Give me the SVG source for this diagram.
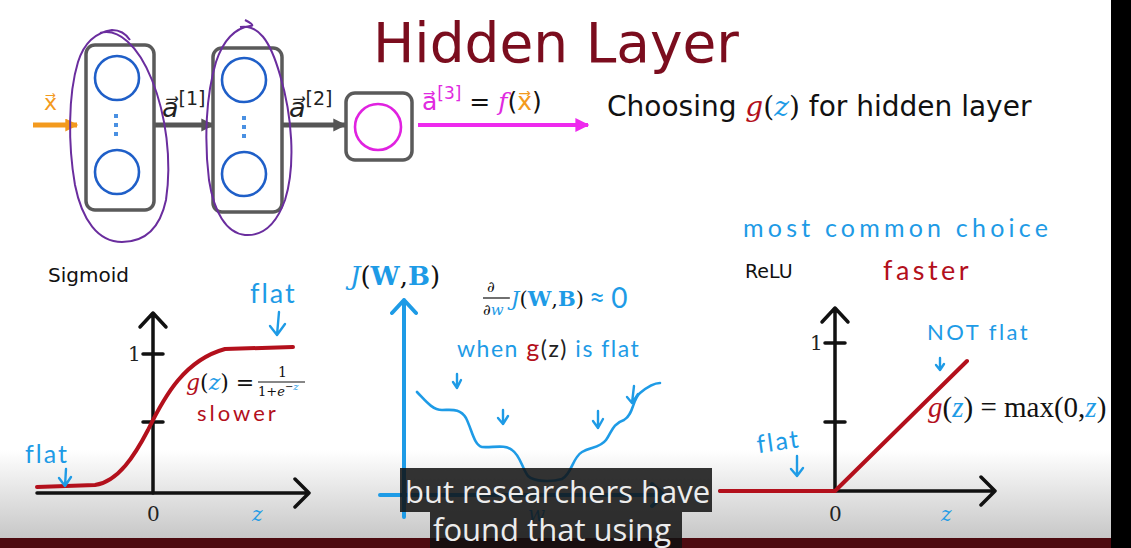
<svg xmlns="http://www.w3.org/2000/svg" width="1131" height="548" viewBox="0 0 1131 548">
<defs>
<linearGradient id="bg" x1="0" y1="0" x2="0" y2="1">
<stop offset="0" stop-color="#ffffff"/>
<stop offset="1" stop-color="#c6c6c6"/>
</linearGradient>
<marker id="hGray" viewBox="0 0 10 10" refX="9" refY="5" markerWidth="13" markerHeight="15" markerUnits="userSpaceOnUse" orient="auto"><path d="M0,0 L10,5 L0,10 z" fill="#555"/></marker>
<marker id="hOrange" viewBox="0 0 10 10" refX="9" refY="5" markerWidth="14" markerHeight="13" markerUnits="userSpaceOnUse" orient="auto"><path d="M0,0 L10,5 L0,10 z" fill="#f39a1e"/></marker>
<marker id="hMag" viewBox="0 0 10 10" refX="9" refY="5" markerWidth="14" markerHeight="14" markerUnits="userSpaceOnUse" orient="auto"><path d="M0,0 L10,5 L0,10 z" fill="#ee2aee"/></marker>
</defs>
<style>
.box{fill:#fff;stroke:#5a5a5a;stroke-width:3.5}
.neu{fill:none;stroke:#1f5fc8;stroke-width:2.6}
.dot{fill:#4a90e2}
.loop{fill:none;stroke:#6a2d9e;stroke-width:2}
.sans{font-family:"DejaVu Sans",sans-serif}
.ser{font-family:"DejaVu Serif","Liberation Serif",serif}
.lser{font-family:"Liberation Serif",serif}
.it{font-style:italic}
.hand{font-family:Lato,"Noto Sans",sans-serif;fill:#1e9be6}
.axK{fill:none;stroke:#111;stroke-width:3.5;stroke-linecap:round;stroke-linejoin:round}
.axB{fill:none;stroke:#1e9be6;stroke-width:4;stroke-linecap:round;stroke-linejoin:round}
.red{fill:none;stroke:#b3101c;stroke-width:4;stroke-linecap:round;stroke-linejoin:round}
.ha{fill:none;stroke:#1e9be6;stroke-width:2.4;stroke-linecap:round;stroke-linejoin:round}
.cb{fill:#1e9be6}
.cr{fill:#b3101c}
.ck{fill:#111}
.sub{fill:#101010;fill-opacity:0.85}
.subt{font-family:"Open Sans",sans-serif;font-size:31px;fill:#ececec}
</style>

<rect x="0" y="0" width="1131" height="548" fill="#fff"/>
<rect x="0" y="450" width="1131" height="90" fill="url(#bg)"/>
<rect x="0" y="538" width="1131" height="10" fill="#4d0a10"/>
<rect x="1111" y="0" width="20" height="548" fill="#000"/>

<text x="373" y="62" class="sans" font-size="55" fill="#7b0d1e">Hidden Layer</text>

<g id="connectors">
<line x1="33" y1="125" x2="77" y2="125" stroke="#f39a1e" stroke-width="5" marker-end="url(#hOrange)"/>
<line x1="155" y1="125" x2="213" y2="125" stroke="#555" stroke-width="5" marker-end="url(#hGray)"/>
<line x1="283" y1="125" x2="345" y2="125" stroke="#555" stroke-width="5" marker-end="url(#hGray)"/>
<line x1="418" y1="125" x2="588" y2="125" stroke="#ee2aee" stroke-width="4" marker-end="url(#hMag)"/>
</g>

<g id="input-label">
<text x="44" y="110" class="sans" font-size="22" fill="#f39a1e">x⃗</text>
</g>

<g id="layer1">
<rect x="86" y="45" width="68" height="165" rx="9" class="box"/>
<circle cx="117" cy="78" r="22" class="neu"/>
<circle cx="117" cy="172" r="22" class="neu"/>
<rect x="114" y="114" width="4" height="4" class="dot"/>
<rect x="114" y="123" width="4" height="4" class="dot"/>
<rect x="114" y="132" width="4" height="4" class="dot"/>
</g>

<g id="label-a1">
<text x="162" y="117" fill="#222"><tspan class="sans it" font-size="27">a⃗</tspan><tspan class="sans" font-size="19" dy="-12">[1]</tspan></text>
</g>

<g id="layer2">
<rect x="213" y="48" width="69" height="164" rx="9" class="box"/>
<circle cx="244" cy="80" r="22" class="neu"/>
<circle cx="244" cy="174" r="22" class="neu"/>
<rect x="242" y="116" width="4" height="4" class="dot"/>
<rect x="242" y="125" width="4" height="4" class="dot"/>
<rect x="242" y="134" width="4" height="4" class="dot"/>
</g>

<g id="label-a2">
<text x="289" y="117" fill="#222"><tspan class="sans it" font-size="27">a⃗</tspan><tspan class="sans" font-size="19" dy="-12">[2]</tspan></text>
</g>

<g id="output">
<rect x="346" y="93" width="66" height="67" rx="9" class="box"/>
<circle cx="378" cy="127" r="23" fill="none" stroke="#e022e0" stroke-width="2.6"/>
</g>

<g id="label-a3">
<text x="422" y="110" class="sans" font-size="25"><tspan fill="#e02ae0">a⃗</tspan><tspan fill="#e02ae0" font-size="17" dy="-11">[3]</tspan><tspan class="ck" dy="11"> = </tspan><tspan class="ser it" fill="#e02ae0">f</tspan><tspan class="ck">(</tspan><tspan fill="#f39a1e">x⃗</tspan><tspan class="ck">)</tspan></text>
</g>

<g id="heading">
<text x="607" y="116" class="sans" font-size="28" fill="#111">Choosing <tspan class="ser it cr">g</tspan><tspan class="ser">(</tspan><tspan class="ser it cb">z</tspan><tspan class="ser">)</tspan> for hidden layer</text>
</g>

<g id="loops">
<path class="loop" d="M100,33 C118,28 138,45 152,80 C166,115 172,160 166,200 C160,228 145,242 122,242 C98,242 82,220 75,185 C68,145 68,95 78,62 C85,40 98,32 112,30 C120,30 126,34 130,40"/>
<path class="loop" d="M240,27 C258,24 270,40 280,75 C292,115 296,165 285,200 C275,228 260,236 245,235 C226,233 214,212 209,180 C204,140 206,95 216,62 C224,38 236,28 250,26 C256,26 249,22 245,20"/>
</g>

<g id="sigmoid">
<text x="48" y="282" class="sans" font-size="20" fill="#111">Sigmoid</text>
<path class="axK" d="M153,313 L153,493 M140,327 L153,313 L166,327"/>
<path class="axK" d="M37,493 L309,493 M295,479 L309,493 L295,507"/>
<path class="axK" d="M143,354 L163,354 M143,422 L163,422"/>
<text x="128" y="361" class="ser" font-size="20" fill="#222">1</text>
<text x="147" y="521" class="ser" font-size="20" fill="#222">0</text>
<text x="252" y="521" class="ser it" font-size="20" fill="#1e9be6">z</text>
<path class="red" d="M37,487 L95,485 C118,482 135,455 148,430 C165,395 185,360 225,349 L293,347"/>
<text x="186" y="390" class="ser" font-size="22" fill="#111"><tspan class="it cr">g</tspan>(<tspan class="it cb">z</tspan>) =</text>
<text x="278" y="377" class="ser" font-size="14" fill="#111">1</text>
<line x1="258" y1="382" x2="305" y2="382" stroke="#111" stroke-width="1.2"/>
<text x="258" y="396" class="ser" font-size="13" fill="#111">1+<tspan class="it">e</tspan><tspan font-size="10" dy="-6">−</tspan><tspan font-size="10" class="it cb">z</tspan></text>
<text x="197" y="421" class="hand" font-size="22" style="fill:#b3101c" letter-spacing="3">slower</text>
<text x="250" y="303" class="hand" font-size="27" letter-spacing="2">flat</text>
<path class="ha" d="M279,312 L277,335 M270,326 L277,335 L285,324"/>
<text x="25" y="463" class="hand" font-size="25" letter-spacing="2">flat</text>
<path class="ha" d="M66,469 L65,486 M59,478 L65,486 L71,477"/>
</g>

<g id="cost">
<text x="350" y="285" class="ser" font-size="26" fill="#111"><tspan class="it cb">J</tspan>(<tspan font-weight="bold" class="cb">W</tspan>,<tspan font-weight="bold" class="cb">B</tspan>)</text>
<path class="axB" d="M404,300 L404,517 M392,313 L404,300 L416,313"/>
<path class="axB" d="M380,495 L664,495 M652,484 L664,495 L652,506"/>
<text x="528" y="521" class="ser it" font-size="20" fill="#1e9be6">w</text>
<text x="487" y="292" class="ser it" font-size="15" fill="#111">∂</text>
<line x1="483" y1="298" x2="510" y2="298" stroke="#111" stroke-width="1.2"/>
<text x="483" y="315" class="ser it" font-size="15" fill="#111">∂<tspan class="cb">w</tspan></text>
<text x="511" y="306" class="ser" font-size="21" fill="#111"><tspan class="it cb">J</tspan>(<tspan font-weight="bold" class="cb">W</tspan>,<tspan font-weight="bold" class="cb">B</tspan>)</text>
<text x="589" y="308" class="hand" font-size="28">≈<tspan dx="6">0</tspan></text>
<text x="457" y="357" class="hand" font-size="23" letter-spacing="1.5">when <tspan style="fill:#b3101c" font-size="25">g</tspan><tspan style="fill:#222">(z)</tspan> is flat</text>
<path d="M417,392 C425,400 432,410 442,410 C452,410 460,408 466,418 C472,430 474,445 482,447 C492,448 505,444 512,450 C520,455 522,468 528,476 C534,482 552,482 562,479 C572,474 572,458 582,452 C590,447 600,448 606,440 C612,432 612,424 624,420 C634,414 632,400 640,393 C646,388 654,383 660,383" fill="none" stroke="#1e9be6" stroke-width="2.6" stroke-linecap="round"/>
<path class="ha" d="M457,374 L457,388 M453,382 L457,388 L461,380"/>
<path class="ha" d="M503,410 L503,424 M498,418 L503,424 L508,416"/>
<path class="ha" d="M598,411 L598,428 M593,421 L598,428 L603,419"/>
<path class="ha" d="M634,386 L632,403 M627,397 L632,403 L638,394"/>
</g>

<g id="relu">
<text x="743" y="237" class="hand" font-size="25" letter-spacing="4.2">most common choice</text>
<text x="745" y="278" class="sans" font-size="19" fill="#111">ReLU</text>
<text x="883" y="280" class="hand" font-size="27" style="fill:#b3101c" letter-spacing="3.5">faster</text>
<path class="axK" d="M835,308 L835,491 M822,322 L835,308 L848,322"/>
<path class="axK" d="M720,491 L995,491 M981,477 L995,491 L981,505"/>
<path class="axK" d="M825,343 L845,343 M825,422 L845,422"/>
<text x="810" y="350" class="ser" font-size="20" fill="#222">1</text>
<text x="829" y="521" class="ser" font-size="20" fill="#222">0</text>
<text x="941" y="521" class="ser it" font-size="20" fill="#1e9be6">z</text>
<path class="red" d="M720,491 L835,491 L967,361"/>
<text x="927" y="340" class="hand" font-size="22" letter-spacing="2.5">NOT flat</text>
<path class="ha" d="M940,358 L940,370 M936,365 L940,370 L944,364"/>
<text x="928" y="417" class="lser" font-size="29" fill="#111"><tspan class="it cr">g</tspan>(<tspan class="it cb">z</tspan>) = max(0,<tspan class="it cb">z</tspan>)</text>
<text x="757" y="450" class="hand" font-size="25" letter-spacing="2" transform="rotate(-8 780 445)">flat</text>
<path class="ha" d="M797,456 L797,476 M791,469 L797,476 L803,468"/>
</g>

<g id="subtitles">
<rect x="400" y="468" width="312" height="44" class="sub"/>
<text x="405" y="503" class="subt">but researchers have</text>
<rect x="430" y="512" width="252" height="36" class="sub"/>
<text x="433" y="541" class="subt">found that using</text>
</g>
</svg>
